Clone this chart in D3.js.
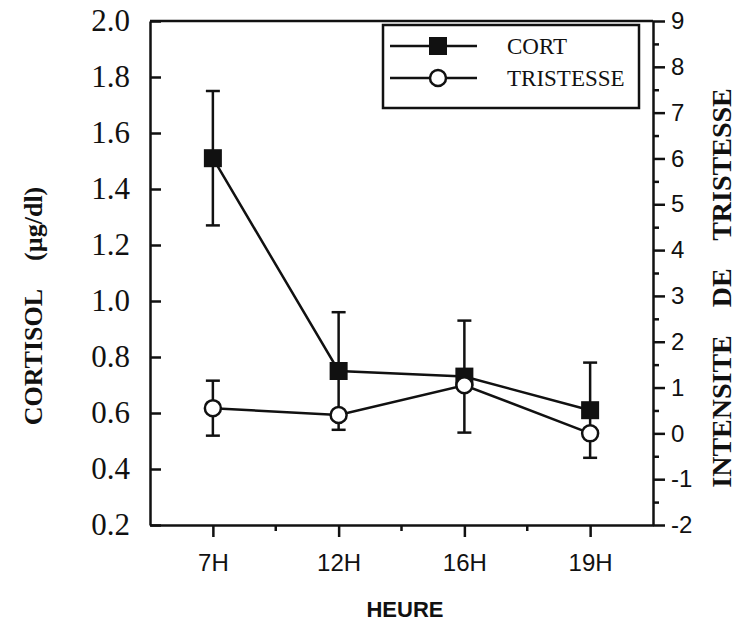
<!DOCTYPE html>
<html>
<head>
<meta charset="utf-8">
<script src="https://cdn.jsdelivr.net/npm/d3@7"></script>
<style>
body{margin:0;background:#fff;}
svg{display:block;}
</style>
</head>
<body>
<div id="chart"></div>
<script>
// data
var heures=["7H","12H","16H","19H"];
var cortisol=[1.51,0.75,0.73,0.61];
var cortisolErr=[0.24,0.21,0.2,0.17];
var tristesse=[0.55,0.4,1.05,0];
var tristesseErr=[0.6,0,0,0];   // only 7H bar is visible
var leftTicks=[0.2,0.4,0.6,0.8,1.0,1.2,1.4,1.6,1.8,2.0];
var rightTicks=[-2,-1,0,1,2,3,4,5,6,7,8,9];
var rightMinor=[-1.5,-0.5,0.5,1.5,2.5,3.5,4.5,5.5,6.5,7.5,8.5];

var w=746,h=622;
var pLeft=150,pRight=653,pTop=21,pBottom=525;
var ink='#111';

var svg=d3.select('#chart').append('svg')
	.attr('width',w)
	.attr('height',h);

var x=d3.scalePoint().domain(heures).range([pLeft,pRight]).padding(0.5);
var yL=d3.scaleLinear().domain([0.2,2.0]).range([pBottom,pTop]);
var yR=d3.scaleLinear().domain([-2,9]).range([pBottom,pTop]);

function styleAxis(g){
	g.selectAll('path,line').attr('stroke',ink).attr('stroke-width',2.5);
	g.selectAll('text').attr('fill',ink);
}

// left axis, ticks inside
var gL=svg.append('g').attr('transform','translate('+pLeft+',0)')
	.call(d3.axisLeft(yL).tickValues(leftTicks).tickSize(-11).tickSizeOuter(0)
		.tickPadding(20).tickFormat(d3.format('.1f')));
gL.selectAll('text').attr('font-family','"Liberation Serif",serif').attr('font-size',31);
styleAxis(gL);

// right axis
var gR=svg.append('g').attr('transform','translate('+pRight+',0)')
	.call(d3.axisRight(yR).tickValues(rightTicks).tickSize(12).tickSizeOuter(0).tickPadding(6)
		.tickFormat(function(d){return String(d);}));
gR.selectAll('text').attr('font-family','"Liberation Sans",Arial,sans-serif').attr('font-size',24);
styleAxis(gR);
var gRm=svg.append('g').attr('transform','translate('+pRight+',0)')
	.call(d3.axisRight(yR).tickValues(rightMinor).tickSize(6).tickSizeOuter(0).tickFormat(''));
gRm.select('.domain').remove();
styleAxis(gRm);

// bottom axis
var gB=svg.append('g').attr('transform','translate(0,'+pBottom+')')
	.call(d3.axisBottom(x).tickSize(12).tickSizeOuter(0).tickPadding(17));
gB.selectAll('text').attr('font-family','"Liberation Sans",Arial,sans-serif').attr('font-size',24);
styleAxis(gB);
// minor ticks between hours
svg.selectAll('.minx').data(heures.slice(0,-1)).enter().append('line')
	.attr('x1',function(d){return x(d)+x.step()/2;})
	.attr('x2',function(d){return x(d)+x.step()/2;})
	.attr('y1',pBottom).attr('y2',pBottom+6)
	.attr('stroke',ink).attr('stroke-width',2.5);

// top border
svg.append('line').attr('x1',pLeft).attr('x2',pRight).attr('y1',pTop).attr('y2',pTop)
	.attr('stroke',ink).attr('stroke-width',2.5);

// error bars
function errBars(vals,errs,ys,cls){
	var idx=vals.map(function(d,i){return i;}).filter(function(i){return errs[i]>0;});
	var g=svg.append('g').attr('class',cls);
	g.selectAll('line.v').data(idx).enter().append('line')
		.attr('x1',function(i){return x(heures[i]);})
		.attr('x2',function(i){return x(heures[i]);})
		.attr('y1',function(i){return ys(vals[i]+errs[i]);})
		.attr('y2',function(i){return ys(vals[i]-errs[i]);});
	[1,-1].forEach(function(s){
		g.selectAll('line.c'+s).data(idx).enter().append('line')
			.attr('x1',function(i){return x(heures[i])-7;})
			.attr('x2',function(i){return x(heures[i])+7;})
			.attr('y1',function(i){return ys(vals[i]+s*errs[i]);})
			.attr('y2',function(i){return ys(vals[i]+s*errs[i]);});
	});
	g.selectAll('line').attr('stroke',ink).attr('stroke-width',2.5);
}
errBars(cortisol,cortisolErr,yL,'errc');
errBars(tristesse,tristesseErr,yR,'errt');

// lines
var lineC=d3.line().x(function(d,i){return x(heures[i]);}).y(function(d){return yL(d);});
var lineT=d3.line().x(function(d,i){return x(heures[i]);}).y(function(d){return yR(d);});
svg.append('path').attr('d',lineC(cortisol)).attr('fill','none').attr('stroke',ink).attr('stroke-width',2.5);
svg.append('path').attr('d',lineT(tristesse)).attr('fill','none').attr('stroke',ink).attr('stroke-width',2.5);

// markers
svg.selectAll('rect.cort').data(cortisol).enter().append('rect')
	.attr('class','cort')
	.attr('x',function(d,i){return x(heures[i])-9;})
	.attr('y',function(d){return yL(d)-9;})
	.attr('width',18).attr('height',18)
	.attr('fill',ink);
svg.selectAll('circle.tri').data(tristesse).enter().append('circle')
	.attr('class','tri')
	.attr('cx',function(d,i){return x(heures[i]);})
	.attr('cy',function(d){return yR(d);})
	.attr('r',8)
	.attr('fill','#fff').attr('stroke',ink).attr('stroke-width',2.5);

// legend
var lg=svg.append('g');
lg.append('rect').attr('x',383).attr('y',25).attr('width',256).attr('height',83)
	.attr('fill','#fff').attr('stroke',ink).attr('stroke-width',2.5);
var rows=[{name:'CORT',y:46},{name:'TRISTESSE',y:78}];
rows.forEach(function(r,k){
	lg.append('line').attr('x1',390).attr('x2',477).attr('y1',r.y).attr('y2',r.y)
		.attr('stroke',ink).attr('stroke-width',2.5);
	if(k==0){
		lg.append('rect').attr('x',429).attr('y',r.y-9).attr('width',18).attr('height',18).attr('fill',ink);
	}else{
		lg.append('circle').attr('cx',438).attr('cy',r.y).attr('r',8)
			.attr('fill','#fff').attr('stroke',ink).attr('stroke-width',2.5);
	}
	lg.append('text').attr('x',507).attr('y',r.y).attr('dy','0.35em')
		.attr('font-family','"Liberation Serif",serif').attr('font-size',23)
		.attr('fill',ink).text(r.name);
});

// axis titles
var tl=svg.append('text').attr('transform','translate(42,306) rotate(-90)')
	.attr('text-anchor','middle')
	.attr('font-family','"Liberation Serif",serif').attr('font-size',26)
	.attr('font-weight','bold').attr('fill',ink);
tl.append('tspan').text('CORTISOL');
tl.append('tspan').attr('dx',28).text('(µg/dl)');

svg.append('text').attr('transform','translate(731,288) rotate(-90)')
	.attr('text-anchor','middle')
	.attr('font-family','"Liberation Serif",serif').attr('font-size',28)
	.attr('font-weight','bold').attr('fill',ink)
	.attr('xml:space','preserve')
	.text('INTENSITE    DE    TRISTESSE');

svg.append('text').attr('x',405).attr('y',617)
	.attr('text-anchor','middle')
	.attr('font-family','"Liberation Sans",Arial,sans-serif').attr('font-size',22)
	.attr('font-weight','bold').attr('fill',ink)
	.text('HEURE');
</script>
</body>
</html>
